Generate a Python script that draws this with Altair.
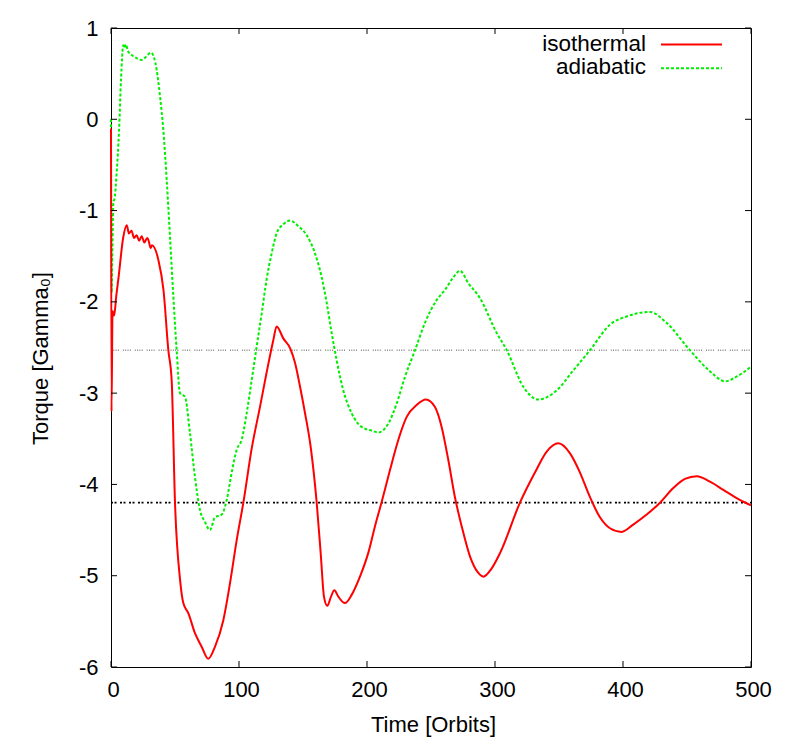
import altair as alt
import pandas as pd

# ---- data ----
iso_t = [0, 0.4, 1.2, 2.5, 4, 6, 9.6, 12.3, 14, 16, 18, 20, 22, 24, 26, 28.3, 29.2, 31, 32, 37, 41,
         44.8, 47.4, 50, 54, 56.5, 60.4, 65.6, 70.9, 76.0, 81.2, 87.7, 93, 98.2, 103.4, 110, 116.4,
         121.5, 126.8, 129.4, 134.6, 140, 143.8, 147.7, 151.6, 156, 160.7, 163.8, 166.4, 169, 171.6,
         174.5, 177.6, 182.8, 188, 194.5, 201, 206.2, 211.5, 218, 224.5, 231, 238.8, 246, 253, 258.3,
         263.5, 268.7, 274, 280.5, 287, 290.9, 297.4, 304, 319.5, 331.2, 340.4, 349.5, 358.6,
         366.4, 374.2, 382, 389.8, 398.9, 408, 418.5, 428.9, 439.3, 448.4, 457.6, 468, 478.4,
         488.8, 500]
iso_v = [-0.1, -3.2, -2.1, -2.15, -1.95, -1.72, -1.29, -1.16, -1.25, -1.22, -1.30, -1.27, -1.33,
         -1.28, -1.35, -1.30, -1.32, -1.41, -1.38, -1.54, -1.87, -2.53, -2.86, -4.2, -5.05, -5.30,
         -5.41, -5.63, -5.78, -5.91, -5.78, -5.49, -5.08, -4.61, -4.2, -3.6, -3.15, -2.78, -2.42,
         -2.27, -2.40, -2.51, -2.67, -2.93, -3.22, -3.59, -4.2, -4.75, -5.23, -5.33, -5.24, -5.16,
         -5.23, -5.30, -5.21, -5.01, -4.75, -4.46, -4.19, -3.84, -3.51, -3.26, -3.13, -3.07, -3.15,
         -3.37, -3.73, -4.14, -4.46, -4.79, -4.97, -5.01, -4.92, -4.75, -4.2, -3.87, -3.64, -3.55,
         -3.66, -3.87, -4.14, -4.36, -4.48, -4.52, -4.44, -4.33, -4.2, -4.04, -3.94, -3.91, -3.97,
         -4.06, -4.15, -4.23]

adi_t = [0, 0.5, 1.0, 1.8, 3, 4.4, 6.3, 7.8, 9.6, 10.5, 11.5, 13.5, 15, 17.4, 20, 23.9, 27, 31.2,
         35.7, 38.3, 40.9, 43.5, 46.1, 48.7, 51.3, 53.9, 57.8, 61.7, 65.6, 69.5, 73.4, 77.3, 81.2,
         86.5, 90.4, 94.3, 98.2, 102.1, 106, 109.9, 113.8, 117.8, 121.5, 125.5, 129.4, 134.6,
         139.8, 146.3, 152.9, 159.4, 164.6, 168.5, 172.4, 176.3, 181.5, 188, 195.8, 203.6, 209.1,
         216.8, 223.3, 229.7, 237.5, 245.3, 254.4, 260.9, 267, 272.7, 278.9, 288.3, 301.3, 309.2,
         322.1, 333.8, 348.2, 361.2, 374.2, 389.8, 402.8, 421, 434, 452.3, 467.9, 479.6, 488.7, 500]
adi_v = [0.0, -1.9, -1.5, -0.92, -0.85, -0.59, -0.12, 0.43, 0.81, 0.78, 0.82, 0.74, 0.72, 0.69,
         0.67, 0.65, 0.68, 0.73, 0.54, 0.25, -0.12, -0.66, -1.29, -1.94, -2.53, -3.0, -3.04, -3.44,
         -3.92, -4.28, -4.41, -4.50, -4.36, -4.33, -4.17, -3.87, -3.62, -3.51, -3.22, -2.86, -2.49,
         -2.12, -1.76, -1.47, -1.25, -1.15, -1.11, -1.17, -1.27, -1.47, -1.73, -2.01, -2.34, -2.64,
         -2.97, -3.22, -3.37, -3.41, -3.43, -3.33, -3.11, -2.82, -2.53, -2.23, -1.98, -1.87, -1.74,
         -1.66, -1.79, -1.96, -2.34, -2.53, -2.93, -3.07, -2.97, -2.75, -2.53, -2.25, -2.16, -2.11,
         -2.23, -2.53, -2.76, -2.87, -2.82, -2.71]

x_ticks = [0, 100, 200, 300, 400, 500]
y_ticks = [1, 0, -1, -2, -3, -4, -5, -6]
ref_grey = [-2.53]
ref_black = [-4.2]
series_names = ["isothermal", "adiabatic"]

W, H = 640, 639
FONT = "Liberation Sans"
FS = 22

xscale = alt.Scale(domain=[0, 500], nice=False, zero=False)
yscale = alt.Scale(domain=[-6, 1], nice=False, zero=False)

font_kw = dict(labelFont=FONT, labelFontSize=FS, labelColor="#000000",
               titleFont=FONT, titleFontSize=FS, titleColor="#000000", titleFontWeight="normal")

xaxis = alt.Axis(values=x_ticks, title="Time [Orbits]", ticks=False, tickSize=0, domain=False,
                 grid=False, labelPadding=12, labelExpr="'' + datum.value", labelFlush=False,
                 labelOffset=2, labelOverlap=False,
                 titleX=322, titleY=57, titleBaseline="middle", titleAlign="center", **font_kw)
yaxis = alt.Axis(values=y_ticks, title="Torque [Gamma₀]", ticks=False, tickSize=0, domain=False,
                 grid=False, labelPadding=13, labelExpr="'' + datum.value", labelFlush=False,
                 labelOverlap=False,
                 titleX=-71, titleY=330, titleAngle=-90, titleBaseline="middle", titleAlign="center",
                 **font_kw)

X = lambda: alt.X("t:Q", scale=xscale, axis=xaxis)
Y = lambda: alt.Y("v:Q", scale=yscale, axis=yaxis)

iso = pd.DataFrame({"t": iso_t, "v": iso_v})
adi = pd.DataFrame({"t": adi_t, "v": adi_v})

iso_line = alt.Chart(iso).mark_line(color="#ff0000", strokeWidth=2, interpolate="monotone").encode(x=X(), y=Y())
adi_line = alt.Chart(adi).mark_line(color="#00ee00", strokeWidth=2, strokeDash=[3, 2],
                                    interpolate="monotone").encode(x=X(), y=Y())

grey_ref = alt.Chart(pd.DataFrame({"v": ref_grey})).mark_rule(
    color="#888888", strokeWidth=1.5, strokeDash=[1, 1.3, 1, 1.3, 1, 1.3, 1, 4]).encode(
    y=Y(), x=alt.value(0), x2=alt.value(W))
black_ref = alt.Chart(pd.DataFrame({"v": ref_black})).mark_rule(
    color="#000000", strokeWidth=1.8, strokeDash=[2, 1.5, 2, 3.5]).encode(
    y=Y(), x=alt.value(0), x2=alt.value(W))

xt = pd.DataFrame({"t": x_ticks})
yt = pd.DataFrame({"v": y_ticks})
tick_style = dict(color="#000000", strokeWidth=1)
tb = alt.Chart(xt).mark_rule(**tick_style).encode(x=X(), y=alt.value(H), y2=alt.value(H - 6))
tt = alt.Chart(xt).mark_rule(**tick_style).encode(x=X(), y=alt.value(0), y2=alt.value(6))
tl = alt.Chart(yt).mark_rule(**tick_style).encode(y=Y(), x=alt.value(0), x2=alt.value(6))
tr = alt.Chart(yt).mark_rule(**tick_style).encode(y=Y(), x=alt.value(W), x2=alt.value(W - 6))

# legend (gnuplot style: label then sample)
leg_layers = []
for name, color, dash, ly in [(series_names[0], "#ff0000", [1, 0], 16.5),
                              (series_names[1], "#00ee00", [3, 2], 40.3)]:
    d = pd.DataFrame({"label": [name]})
    leg_layers.append(alt.Chart(d).mark_text(align="right", baseline="middle", font=FONT,
                                             fontSize=FS + 0.5, color="#000000").encode(
        text="label:N", x=alt.value(535), y=alt.value(ly - 1)))
    leg_layers.append(alt.Chart(d).mark_rule(color=color, strokeWidth=2, strokeDash=dash).encode(
        x=alt.value(550), x2=alt.value(611), y=alt.value(ly)))

chart = alt.layer(grey_ref, black_ref, adi_line, iso_line, tb, tt, tl, tr, *leg_layers).properties(
    width=W, height=H,
    autosize=alt.AutoSizeParams(type="none"),
    padding={"left": 103, "top": 20, "right": 30, "bottom": 70},
    background="white",
).configure_view(stroke="#000000", strokeWidth=1)

chart.save("out.html", embed_options={"renderer": "svg", "actions": False})
